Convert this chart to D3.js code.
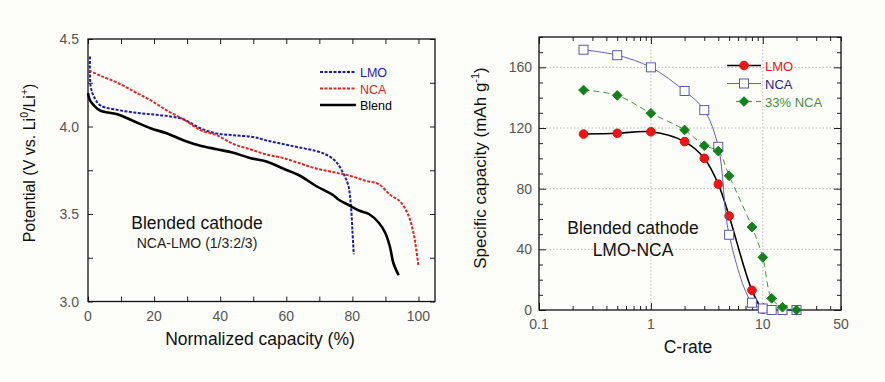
<!DOCTYPE html>
<meta charset="utf-8">
<head>
<title>blended cathode</title>
<script src="https://cdn.jsdelivr.net/npm/d3@7"></script>
<style>
  body { margin: 0; background: #fdfdf9; }
  text { font-family: Arial, "Liberation Sans", sans-serif; }
</style>
</head>
<body>
<div id="chart"></div>
<script>

const width = 885;
const height = 382;

// left panel: discharge curves (capacity %, potential V)
const lmoCap = [0.6, 0.8, 1.8, 3.8, 8.9, 13.9, 18.9, 24, 29, 34, 39, 44, 50, 54, 59, 64, 69, 72, 75, 77.3, 78.8, 79.5, 80, 80.4];
const lmoV   = [4.40, 4.23, 4.17, 4.12, 4.095, 4.08, 4.07, 4.06, 4.04, 3.99, 3.96, 3.95, 3.94, 3.92, 3.90, 3.88, 3.86, 3.84, 3.80, 3.73, 3.66, 3.56, 3.41, 3.27];
const ncaCap = [0.3, 3.8, 8.9, 13.9, 18.9, 24, 29, 34, 39, 44, 49, 54, 59, 64, 69, 74, 79, 84, 88, 91.4, 94.5, 97, 98.5, 99.3, 100];
const ncaV   = [4.32, 4.29, 4.25, 4.20, 4.15, 4.09, 4.04, 3.98, 3.95, 3.90, 3.87, 3.84, 3.82, 3.79, 3.76, 3.74, 3.72, 3.69, 3.67, 3.61, 3.57, 3.49, 3.39, 3.30, 3.20];
const blendCap = [0, 0.6, 1.8, 3.8, 8.9, 13.9, 18.9, 24, 29, 34, 39, 44, 49, 54, 59, 64, 69, 74, 76, 79, 82, 85, 88, 90, 91.4, 92.4, 94];
const blendV   = [4.19, 4.15, 4.12, 4.09, 4.07, 4.03, 3.99, 3.96, 3.92, 3.89, 3.87, 3.85, 3.82, 3.80, 3.76, 3.72, 3.66, 3.61, 3.58, 3.55, 3.52, 3.50, 3.45, 3.39, 3.31, 3.22, 3.15];

// right panel: rate capability (C-rate, mAh/g)
const cRates = [0.25, 0.5, 1, 2, 3, 4, 5, 8, 10, 12, 15, 20];
const lmoCapacity   = [116, 116.5, 117.5, 111, 100, 83, 62, 13, 0.5, 0, 0, 0];
const ncaCapacity   = [171.6, 168, 160, 144.4, 131.8, 107.6, 49.6, 4.8, 1, 0, 0, 0];
const blend33Capacity = [145, 141.5, 129.7, 118.7, 108.3, 104.8, 88.5, 54.7, 34.7, 7.7, 1.8, 0];

const leftTicksX = [0, 20, 40, 60, 80, 100];
const leftTicksY = [3.0, 3.5, 4.0, 4.5];
const rightTicksX = [0.1, 1, 10, 50];
const rightTicksY = [0, 40, 80, 120, 160];

const svg = d3.select('#chart')
  .append("svg")
  .attr("width", width)
  .attr("height", height)
  .attr("viewBox", [0, 0, width, height]);

svg.append("rect").attr("width", width).attr("height", height).attr("fill", "#fdfdf9");

const tickGray = "#555";

// ---------- left panel ----------
const x1 = d3.scaleLinear().domain([0, 105]).range([88, 435]);
const y1 = d3.scaleLinear().domain([3.0, 4.5]).range([301.5, 39]);

const left = svg.append("g");

// inward ticks on all four sides
left.append("g").attr("transform", `translate(0,${y1(3.0)})`)
  .call(d3.axisBottom(x1).tickValues(d3.range(0, 101, 10)).tickSize(-5).tickFormat(""))
  .call(g => g.select(".domain").remove());
left.append("g").attr("transform", `translate(0,${y1(4.5)})`)
  .call(d3.axisTop(x1).tickValues(d3.range(0, 101, 10)).tickSize(-5).tickFormat(""))
  .call(g => g.select(".domain").remove());
left.append("g").attr("transform", `translate(${x1(0)},0)`)
  .call(d3.axisLeft(y1).tickValues(d3.range(3.0, 4.51, 0.25)).tickSize(-5).tickFormat(""))
  .call(g => g.select(".domain").remove());
left.append("g").attr("transform", `translate(${x1(105)},0)`)
  .call(d3.axisRight(y1).tickValues(d3.range(3.0, 4.51, 0.25)).tickSize(-5).tickFormat(""))
  .call(g => g.select(".domain").remove());
left.selectAll(".tick line").attr("stroke", "#222");

left.append("rect")
  .attr("x", x1(0)).attr("y", y1(4.5))
  .attr("width", x1(105) - x1(0)).attr("height", y1(3.0) - y1(4.5))
  .attr("fill", "none").attr("stroke", "#111").attr("stroke-width", 1.3);

left.append("g").selectAll("text")
  .data(leftTicksX).join("text")
  .attr("x", d => x1(d)).attr("y", 321)
  .attr("text-anchor", "middle").attr("font-size", 14).attr("fill", tickGray)
  .text(d => d);
left.append("g").selectAll("text")
  .data(leftTicksY).join("text")
  .attr("x", 79).attr("y", d => y1(d) + 5)
  .attr("text-anchor", "end").attr("font-size", 14).attr("fill", tickGray)
  .text(d => d.toFixed(1));

left.append("text")
  .attr("x", 260).attr("y", 345)
  .attr("text-anchor", "middle").attr("font-size", 17.5).attr("fill", "#111")
  .text("Normalized capacity (%)");

const yl = left.append("text")
  .attr("transform", "translate(35,163) rotate(-90)")
  .attr("text-anchor", "middle").attr("font-size", 16).attr("fill", "#111");
yl.append("tspan").text("Potential (V vs. Li");
yl.append("tspan").attr("font-size", 10.5).attr("dy", -7).text("0");
yl.append("tspan").attr("dy", 7).text("/Li");
yl.append("tspan").attr("font-size", 10.5).attr("dy", -7).text("+");
yl.append("tspan").attr("dy", 7).text(")");

const line1 = d3.line().x(d => x1(d[0])).y(d => y1(d[1])).curve(d3.curveCatmullRom);

const leftSeries = [
  {name: "LMO", cap: lmoCap, v: lmoV, color: "#1c1ca8", dash: "3,1.5", w: 2},
  {name: "NCA", cap: ncaCap, v: ncaV, color: "#e02424", dash: "3,1.5", w: 2},
  {name: "Blend", cap: blendCap, v: blendV, color: "#000", dash: null, w: 2.6}
];

left.append("g").selectAll("path")
  .data(leftSeries).join("path")
  .attr("d", s => line1(s.cap.map((c, i) => [c, s.v[i]])))
  .attr("fill", "none")
  .attr("stroke", s => s.color)
  .attr("stroke-width", s => s.w)
  .attr("stroke-dasharray", s => s.dash);

const leg1 = left.append("g").selectAll("g")
  .data(leftSeries).join("g")
  .attr("transform", (d, i) => `translate(320,${72 + i * 16.5})`);
leg1.append("line")
  .attr("x1", 0).attr("x2", 36)
  .attr("stroke", d => d.color).attr("stroke-width", d => d.w)
  .attr("stroke-dasharray", d => d.dash);
leg1.append("text")
  .attr("x", 40).attr("y", 5).attr("font-size", 12.5)
  .attr("fill", d => d.color)
  .text(d => d.name);

left.append("text")
  .attr("x", 197).attr("y", 229)
  .attr("text-anchor", "middle").attr("font-size", 17.5).attr("fill", "#111")
  .text("Blended cathode");
left.append("text")
  .attr("x", 197).attr("y", 248)
  .attr("text-anchor", "middle").attr("font-size", 14).attr("fill", "#222")
  .text("NCA-LMO (1/3:2/3)");

// ---------- right panel ----------
const x2 = d3.scaleLog().domain([0.1, 50]).range([539, 841]);
const y2 = d3.scaleLinear().domain([0, 180]).range([310, 37]);

const right = svg.append("g");

// dotted grid
right.append("g").selectAll("line")
  .data([40, 80, 120, 160]).join("line")
  .attr("x1", x2(0.1)).attr("x2", x2(50))
  .attr("y1", d => y2(d)).attr("y2", d => y2(d))
  .attr("stroke", "#aaa").attr("stroke-width", 0.8).attr("stroke-dasharray", "1.5,2");
right.append("g").selectAll("line")
  .data([1, 10]).join("line")
  .attr("x1", d => x2(d)).attr("x2", d => x2(d))
  .attr("y1", y2(0)).attr("y2", y2(180))
  .attr("stroke", "#aaa").attr("stroke-width", 0.8).attr("stroke-dasharray", "1.5,2");

const logTicks = [];
[0.1, 1, 10].forEach(dec => { for (let k = 1; k <= 9; k++) if (dec * k <= 50) logTicks.push(dec * k); });
logTicks.push(20, 30, 40, 50);
const logTickVals = Array.from(new Set(logTicks.map(v => +v.toPrecision(3))));

function ticksX2(axis, ypos) {
  right.append("g").attr("transform", `translate(0,${ypos})`)
    .call(axis(x2).tickValues(logTickVals).tickSize(-4).tickFormat(""))
    .call(s => s.select(".domain").remove())
    .call(s => s.selectAll(".tick line").attr("stroke", "#222")
      .attr("y2", d => ([0.1, 1, 10].includes(d) ? 7 : 4) * (axis === d3.axisBottom ? -1 : 1)));
}
ticksX2(d3.axisBottom, y2(0));
ticksX2(d3.axisTop, y2(180));

right.append("g").attr("transform", `translate(${x2(0.1)},0)`)
  .call(d3.axisLeft(y2).tickValues(d3.range(0, 181, 10)).tickSize(-4).tickFormat(""))
  .call(s => s.select(".domain").remove())
  .call(s => s.selectAll(".tick line").attr("x2", d => d % 40 === 0 ? 7 : 4).attr("stroke", "#222"));
right.append("g").attr("transform", `translate(${x2(50)},0)`)
  .call(d3.axisRight(y2).tickValues(d3.range(0, 181, 10)).tickSize(-4).tickFormat(""))
  .call(s => s.select(".domain").remove())
  .call(s => s.selectAll(".tick line").attr("x2", d => d % 40 === 0 ? -7 : -4).attr("stroke", "#222"));

right.append("rect")
  .attr("x", x2(0.1)).attr("y", y2(180))
  .attr("width", x2(50) - x2(0.1)).attr("height", y2(0) - y2(180))
  .attr("fill", "none").attr("stroke", "#111").attr("stroke-width", 1.3);

right.append("g").selectAll("text")
  .data(rightTicksX).join("text")
  .attr("x", d => x2(d)).attr("y", 329)
  .attr("text-anchor", "middle").attr("font-size", 14).attr("fill", tickGray)
  .text(d => d);
right.append("g").selectAll("text")
  .data(rightTicksY).join("text")
  .attr("x", 532).attr("y", d => y2(d) + 5)
  .attr("text-anchor", "end").attr("font-size", 14).attr("fill", tickGray)
  .text(d => d);

right.append("text")
  .attr("x", 688).attr("y", 353)
  .attr("text-anchor", "middle").attr("font-size", 17.5).attr("fill", "#111")
  .text("C-rate");

const yl2 = right.append("text")
  .attr("transform", "translate(486,168) rotate(-90)")
  .attr("text-anchor", "middle").attr("font-size", 17).attr("fill", "#111");
yl2.append("tspan").text("Specific capacity (mAh g");
yl2.append("tspan").attr("font-size", 11).attr("dy", -7).text("-1");
yl2.append("tspan").attr("dy", 7).text(")");

const line2 = d3.line().x(d => x2(d[0])).y(d => y2(d[1])).curve(d3.curveCatmullRom);

const rightSeries = [
  {name: "LMO", vals: lmoCapacity, line: "#000", lw: 1.6, dash: null, text: "#e02020", marker: "circle", fill: "#f01414", mstroke: "#e01010"},
  {name: "NCA", vals: ncaCapacity, line: "#6262b0", lw: 1, dash: null, text: "#26267a", marker: "square", fill: "#fff", mstroke: "#5a5aaa"},
  {name: "33% NCA", vals: blend33Capacity, line: "#2c8a2c", lw: 0.9, dash: "6,4", text: "#3f8f3f", marker: "diamond", fill: "#14801c", mstroke: "#14801c"}
];

function drawMarker(sel, s) {
  if (s.marker === "circle") {
    sel.append("circle").attr("r", 4.3).attr("fill", s.fill).attr("stroke", s.mstroke);
  } else if (s.marker === "square") {
    sel.append("rect").attr("x", -4.5).attr("y", -4.5).attr("width", 9).attr("height", 9)
      .attr("fill", s.fill).attr("stroke", s.mstroke).attr("stroke-width", 1);
  } else {
    sel.append("path").attr("d", d3.symbol(d3.symbolDiamond2, 60)()).attr("fill", s.fill)
      .attr("stroke", s.mstroke);
  }
}

rightSeries.forEach(s => {
  const pts = cRates.map((c, i) => [c, s.vals[i]]);
  right.append("path")
    .attr("d", line2(pts))
    .attr("fill", "none").attr("stroke", s.line)
    .attr("stroke-width", s.lw).attr("stroke-dasharray", s.dash);
  right.append("g").selectAll("g")
    .data(pts).join("g")
    .attr("transform", d => `translate(${x2(d[0])},${y2(d[1])})`)
    .each(function() { drawMarker(d3.select(this), s); });
});

const leg2 = right.append("g").selectAll("g")
  .data(rightSeries).join("g")
  .attr("transform", (d, i) => `translate(727,${65.5 + i * 18})`);
leg2.append("line")
  .attr("x1", d => d.dash ? 9 : 0).attr("x2", 34)
  .attr("stroke", d => d.line).attr("stroke-width", d => d.lw)
  .attr("stroke-dasharray", d => d.dash);
leg2.each(function(d) {
  const g = d3.select(this).append("g").attr("transform", "translate(17,0)");
  drawMarker(g, d);
});
leg2.append("text")
  .attr("x", 38).attr("y", 5).attr("font-size", 13)
  .attr("fill", d => d.text)
  .text(d => d.name);

right.append("text")
  .attr("x", 633).attr("y", 234)
  .attr("text-anchor", "middle").attr("font-size", 17.5).attr("fill", "#111")
  .text("Blended cathode");
right.append("text")
  .attr("x", 633).attr("y", 256)
  .attr("text-anchor", "middle").attr("font-size", 17.5).attr("fill", "#111")
  .text("LMO-NCA");

</script>
</body>
